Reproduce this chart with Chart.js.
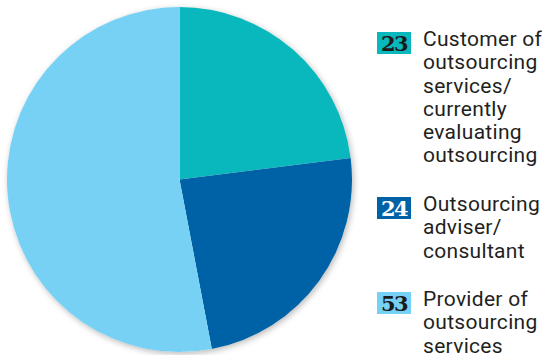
<!DOCTYPE html>
<html>
<head>
<meta charset="utf-8">
<script src="https://cdn.jsdelivr.net/npm/chart.js@4"></script>
<style>
  html, body { margin: 0; padding: 0; background: #fff; overflow: hidden; }
  body { width: 546px; height: 355px; position: relative; }
  #pie-wrap { position: absolute; left: 0; top: 0; width: 359px; height: 355px; }
  #legend { position: absolute; left: 377px; top: 0; width: 169px; }
  .item { position: absolute; left: 0; display: flex; }
  .num {
    width: 34px; height: 22px; line-height: 23px; text-align: center;
    font-family: "DejaVu Serif", serif; font-weight: bold; font-size: 21px;
    color: #1b1b1b; letter-spacing: -1.5px; overflow: hidden;
  }
  .txt {
    margin-left: 12px; margin-top: -4px;
    font-family: Roboto, "Noto Sans", sans-serif; font-size: 21px; line-height: 23.3px;
    letter-spacing: 0.3px; color: #231f20; white-space: nowrap;
  }
</style>
</head>
<body>
<div id="pie-wrap"><canvas id="pie"></canvas></div>
<div id="legend"></div>
<script>
const categories = [
  ["Customer of", "outsourcing", "services/", "currently", "evaluating", "outsourcing"],
  ["Outsourcing", "adviser/", "consultant"],
  ["Provider of", "outsourcing", "services"]
];
const values = [23, 24, 53];
const colors = ["#09b8bd", "#0062a6", "#76d1f5"];
const numberColors = ["#1b1b1b", "#ffffff", "#1b1b1b"];
const legendTops = [32, 197, 292];

// soft shadow under the whole disc, drawn from the arc geometry
const discShadow = {
  id: "discShadow",
  beforeDatasetsDraw(chart) {
    const arc = chart.getDatasetMeta(0).data[0];
    if (!arc) return;
    const ctx = chart.ctx;
    ctx.save();
    ctx.shadowColor = "rgba(0,0,0,0.28)";
    ctx.shadowBlur = 6;
    ctx.shadowOffsetX = 1.5;
    ctx.shadowOffsetY = 2;
    ctx.fillStyle = "#ffffff";
    ctx.beginPath();
    ctx.arc(arc.x, arc.y, arc.outerRadius, 0, Math.PI * 2);
    ctx.fill();
    ctx.restore();
  }
};

new Chart(document.getElementById("pie"), {
  type: "pie",
  data: {
    labels: categories.map(c => c.join(" ")),
    datasets: [{
      data: values,
      backgroundColor: colors,
      borderWidth: 0
    }]
  },
  options: {
    responsive: true,
    maintainAspectRatio: false,
    animation: false,
    layout: { padding: { top: 7, bottom: 3, left: 7, right: 7 } },
    plugins: { legend: { display: false }, tooltip: { enabled: false } }
  },
  plugins: [discShadow]
});

// legend: number badge plus wrapped label
const legend = document.getElementById("legend");
categories.forEach((lines, i) => {
  const item = document.createElement("div");
  item.className = "item";
  item.style.top = legendTops[i] + "px";
  const num = document.createElement("div");
  num.className = "num";
  num.style.background = colors[i];
  num.style.color = numberColors[i];
  num.textContent = values[i];
  const txt = document.createElement("div");
  txt.className = "txt";
  txt.innerHTML = lines.join("<br>");
  item.appendChild(num);
  item.appendChild(txt);
  legend.appendChild(item);
});
</script>
</body>
</html>
